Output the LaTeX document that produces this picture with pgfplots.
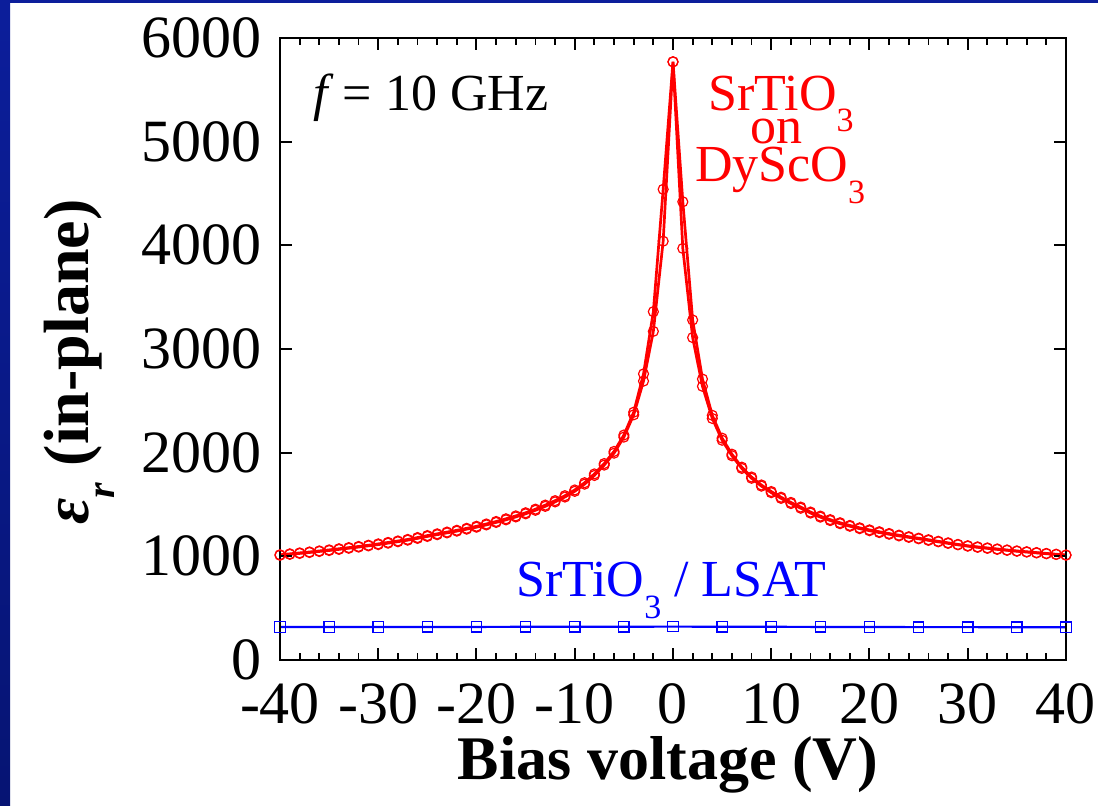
\documentclass[border=0pt]{standalone}
\usepackage{fontspec}
\setmainfont{Liberation Serif}
\usepackage{pgfplots}
\usepackage{pgfplotstable}
\pgfplotsset{compat=1.18}

\definecolor{slideblue}{RGB}{12,30,155}
\definecolor{slidebluedark}{RGB}{6,20,115}

% subscript used in the chemical formulae
\newcommand\sub[1]{\raisebox{-10.8pt}{\fontsize{17}{17}\selectfont #1}}

% SrTiO3 on DyScO3, sweep from -40 V to +40 V
\pgfplotstableread{
V eps
-40 1010
-39 1019
-38 1028
-37 1037
-36 1047
-35 1056
-34 1067
-33 1078
-32 1089
-31 1101
-30 1113
-29 1127
-28 1141
-27 1156
-26 1173
-25 1192
-24 1209
-23 1226
-22 1243
-21 1262
-20 1281
-19 1303
-18 1327
-17 1352
-16 1380
-15 1410
-14 1444
-13 1482
-12 1525
-11 1572
-10 1627
-9 1696
-8 1780
-7 1880
-6 1995
-5 2150
-4 2365
-3 2690
-2 3170
-1 4040
0 5770
1 4420
2 3280
3 2710
4 2360
5 2140
6 1985
7 1860
8 1765
9 1688
10 1625
11 1570
12 1520
13 1475
14 1427
15 1388
16 1354
17 1324
18 1298
19 1275
20 1255
21 1237
22 1220
23 1204
24 1189
25 1175
26 1160
27 1145
28 1130
29 1115
30 1102
31 1091
32 1081
33 1071
34 1061
35 1052
36 1044
37 1036
38 1028
39 1020
40 1013
}\sweepup

% SrTiO3 on DyScO3, sweep from +40 V back to -40 V
\pgfplotstableread{
V eps
40 1011
39 1018
38 1025
37 1033
36 1041
35 1049
34 1058
33 1067
32 1077
31 1087
30 1098
29 1111
28 1125
27 1140
26 1154
25 1169
24 1183
23 1197
22 1213
21 1229
20 1247
19 1267
18 1290
17 1315
16 1345
15 1378
14 1417
13 1464
12 1509
11 1559
10 1614
9 1677
8 1753
7 1848
6 1970
5 2120
4 2330
3 2640
2 3110
1 3970
0 5770
-1 4540
-2 3360
-3 2760
-4 2390
-5 2170
-6 2012
-7 1895
-8 1795
-9 1710
-10 1640
-11 1585
-12 1537
-13 1494
-14 1455
-15 1420
-16 1390
-17 1362
-18 1336
-19 1312
-20 1290
-21 1270
-22 1251
-23 1234
-24 1217
-25 1200
-26 1181
-27 1163
-28 1148
-29 1134
-30 1120
-31 1107
-32 1095
-33 1084
-34 1073
-35 1062
-36 1052
-37 1042
-38 1033
-39 1024
-40 1015
}\sweepdown

% SrTiO3 on LSAT
\pgfplotstableread{
V eps
-40 318
-35 318
-30 318
-25 319
-20 319
-15 320
-10 320
-5 321
0 322
5 321
10 320
15 319
20 318
25 317
30 317
35 316
40 315
}\lsat

\begin{document}
\begin{tikzpicture}
\useasboundingbox (0,0) rectangle (549pt,403pt);
\fill[white] (0,0) rectangle (549pt,403pt);
\shade[top color=slideblue, bottom color=slidebluedark] (0,0) rectangle (5pt,403pt);
\fill[slideblue] (0,401.5pt) rectangle (549pt,403pt);

\begin{axis}[
  at={(140pt,73pt)}, anchor=south west,
  scale only axis, width=393pt, height=311pt,
  xmin=-40, xmax=40, ymin=0, ymax=6000,
  xtick={-40,-30,...,40},
  xticklabels={-40,-30,-20,-10,0,10,20,30,40},
  minor x tick num=4,
  ytick={0,1000,...,6000},
  yticklabels={0,1000,2000,3000,4000,5000,6000},
  tick align=inside,
  major tick length=6pt, minor tick length=3.3pt,
  axis line style={line width=1.2pt},
  every tick/.style={black, line width=1pt},
  every minor tick/.style={black, line width=0.9pt},
  tick label style={font=\fontsize{30}{30}\selectfont, inner sep=0pt},
  xticklabel style={anchor=north, yshift=-11.5pt},
  yticklabel style={anchor=east, xshift=-9pt},
  clip=false,
  axis on top,
]
\addplot[red, line width=1.35pt, mark=o, mark size=2.5pt,
  mark options={line width=0.6pt}] table[x=V, y=eps] {\sweepup};
\addplot[red, line width=1.35pt, mark=o, mark size=2.5pt,
  mark options={line width=0.6pt}] table[x=V, y=eps] {\sweepdown};
\addplot[blue, line width=1.1pt, mark=square, mark size=2.6pt,
  mark options={line width=0.65pt}] table[x=V, y=eps] {\lsat};

\node[anchor=base west, font=\fontsize{26}{26}\selectfont, inner sep=0pt]
  at (axis cs:-36.6,5305) {\textit{f}\,= 10 GHz};
\node[anchor=base, red, font=\fontsize{26}{26}\selectfont, inner sep=0pt]
  at (axis cs:11,5305) {SrTiO\sub{3}};
\node[anchor=base, red, font=\fontsize{26}{26}\selectfont, inner sep=0pt]
  at (axis cs:10.5,4987) {on};
\node[anchor=base, red, font=\fontsize{26}{26}\selectfont, inner sep=0pt]
  at (axis cs:10.9,4611) {DyScO\sub{3}};
\node[anchor=base, blue, font=\fontsize{26}{26}\selectfont, inner sep=0pt]
  at (axis cs:-0.2,608) {SrTiO\sub{3} / LSAT};
\end{axis}

% axis titles
\node[anchor=base, inner sep=0pt, font=\fontsize{31}{31}\selectfont\bfseries]
  at (334pt,13pt) {Bias voltage (V)};
\node[anchor=base, rotate=90, inner sep=0pt, font=\fontsize{32}{32}\selectfont\bfseries]
  at (44pt,222pt) {\textit{ε}\raisebox{-13pt}{\fontsize{20}{20}\selectfont\textit{r}}\ (in-plane)};
\end{tikzpicture}
\end{document}
